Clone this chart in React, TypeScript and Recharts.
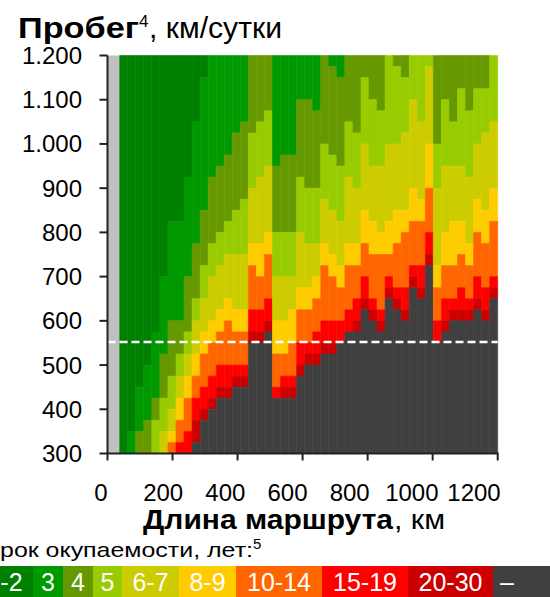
import React from 'react';
import { ComposedChart, XAxis, YAxis, ReferenceArea, ReferenceLine } from 'recharts';

// Route lengths (km) of the heat-map columns
const ROUTE_KM = [50, 75, 100, 125, 150, 175, 200, 225, 250, 275, 300, 325, 350, 375, 400, 425, 450, 475, 500, 525, 550, 575, 600, 625, 650, 675, 700, 725, 750, 775, 800, 825, 850, 875, 900, 925, 950, 975, 1000, 1025, 1050, 1075, 1100, 1125, 1150, 1175, 1200];
const ROUTE_TICKS = [0, 200, 400, 600, 800, 1000, 1200];
const MILEAGE_TICKS = [300, 400, 500, 600, 700, 800, 900, 1000, 1100, 1200];
const MILEAGE_MIN = 300;
const MILEAGE_MAX = 1200;
const THRESHOLD_MILEAGE = 552;

// Payback classes (years) and colours
const CLASSES = ['1-2', '3', '4', '5', '6-7', '8-9', '10-14', '15-19', '20-30', '–'];
const COLORS = ['#008000', '#009900', '#669900', '#99CC00', '#CCCC00', '#FFCC00', '#FF6600', '#FF0000', '#CC0000', '#404040'];
const NO_DATA_COLOR = '#C0C0C0';

// Lowest daily mileage (km/day) still inside each payback class, per column
const MIN_1_2 = [300, 350, 450, 500, 575, 700, 825, 825, 925, 1050, 1150, 1200, 1200, 1200, 1200, 1200, 1200, 1200, 1200, 1200, 1200, 1200, 1200, 1200, 1200, 1200, 1200, 1200, 1200, 1200, 1200, 1200, 1200, 1200, 1200, 1200, 1200, 1200, 1200, 1200, 1200, 1200, 1200, 1200, 1200, 1200, 1200];
const MIN_3 = [300, 300, 350, 375, 425, 525, 600, 600, 700, 775, 850, 925, 950, 975, 1025, 1050, 1200, 1200, 1200, 950, 975, 975, 1100, 1100, 1075, 1200, 1175, 1150, 1200, 1200, 1200, 1200, 1200, 1200, 1200, 1200, 1200, 1200, 1200, 1200, 1200, 1200, 1200, 1200, 1200, 1200, 1200];
const MIN_4 = [300, 300, 300, 300, 375, 425, 475, 525, 575, 650, 725, 775, 800, 825, 850, 875, 1025, 1050, 1075, 800, 800, 800, 925, 900, 900, 1000, 975, 950, 1050, 1025, 1150, 1100, 1075, 1200, 1175, 1150, 1200, 1200, 1200, 1000, 1100, 1050, 1125, 1075, 1125, 1125, 1200];
const MIN_5 = [300, 300, 300, 300, 300, 350, 400, 475, 525, 600, 650, 700, 725, 750, 750, 750, 900, 925, 950, 700, 700, 700, 800, 775, 775, 875, 850, 825, 925, 900, 1000, 950, 950, 1000, 1000, 1025, 1100, 1050, 1175, 900, 950, 950, 950, 925, 1000, 1025, 1050];
const MIN_6_7 = [300, 300, 300, 300, 300, 300, 350, 425, 475, 525, 575, 600, 625, 650, 625, 625, 775, 775, 800, 600, 600, 625, 675, 675, 700, 775, 750, 725, 775, 775, 850, 825, 800, 825, 850, 850, 900, 875, 1000, 725, 800, 825, 825, 775, 875, 850, 900];
const MIN_8_9 = [300, 300, 300, 300, 300, 300, 325, 375, 425, 475, 525, 550, 575, 600, 575, 575, 725, 700, 750, 525, 525, 550, 625, 625, 650, 725, 700, 675, 725, 725, 775, 750, 750, 750, 775, 800, 825, 825, 900, 675, 725, 725, 750, 725, 800, 775, 825];
const MIN_10_14 = [300, 300, 300, 300, 300, 300, 300, 325, 350, 425, 450, 475, 500, 500, 500, 500, 625, 625, 650, 450, 475, 475, 550, 550, 575, 600, 600, 600, 625, 650, 700, 650, 625, 700, 675, 675, 725, 725, 800, 600, 650, 650, 675, 650, 700, 675, 700];
const MIN_15_19 = [300, 300, 300, 300, 300, 300, 300, 300, 300, 375, 400, 425, 450, 450, 475, 475, 575, 575, 600, 425, 450, 450, 500, 525, 525, 550, 550, 550, 575, 600, 650, 625, 600, 675, 650, 625, 700, 675, 750, 550, 600, 625, 625, 625, 650, 625, 675];
const MIN_20_30 = [300, 300, 300, 300, 300, 300, 300, 300, 300, 325, 375, 400, 425, 425, 450, 450, 550, 550, 575, 425, 425, 425, 475, 500, 500, 525, 525, 550, 575, 575, 625, 600, 575, 650, 625, 600, 675, 650, 725, 550, 575, 600, 600, 600, 625, 600, 650];

const BOUNDS = [MIN_1_2, MIN_3, MIN_4, MIN_5, MIN_6_7, MIN_8_9, MIN_10_14, MIN_15_19, MIN_20_30];

const FONT = "'Liberation Sans', Arial, sans-serif";
const AXIS_COLOR = '#222';

const fmtThousands = (v: number) => {
  const s = String(v);
  return s.length > 3 ? s.slice(0, s.length - 3) + '.' + s.slice(-3) : s;
};

// Legend box extents (px) – layout only
const LEGEND_BOXES: [number, number][] = [[-24, 33], [33, 63], [63, 93], [93, 122], [122, 179], [179, 236], [236, 322], [322, 408], [408, 493], [493, 560]];

// x-axis tick: tick mark at the scale position, label drawn slightly compressed towards the left as in the source graphic
const X_TICK_LEN = 7;
const XTick = (props: any) => {
  const { x, y, payload } = props;
  const plotLeft = 107.5;
  const labelX = 101 + (x - plotLeft) * 0.956;
  return (
    <g>
      <line x1={x} x2={x} y1={y - X_TICK_LEN - 1} y2={y} stroke={AXIS_COLOR} strokeWidth={2} />
      <text x={labelX} y={y + 40} textAnchor="middle" fontSize={24} fill="#000" fontFamily={FONT}>{payload.value}</text>
    </g>
  );
};

export default function App() {
  const firstEdge = ROUTE_KM[0] - (ROUTE_KM[1] - ROUTE_KM[0]) / 2;
  const xMax = ROUTE_TICKS[ROUTE_TICKS.length - 1];
  const bandW = (xMax - firstEdge) / ROUTE_KM.length;

  const chartData = ROUTE_KM.map((km, i) => ({ km, mileage: MIN_20_30[i] }));

  const areas: React.ReactNode[] = [];
  areas.push(
    <ReferenceArea key="nodata" xAxisId="a" yAxisId="y" x1={0} x2={firstEdge} y1={MILEAGE_MIN} y2={MILEAGE_MAX}
      fill={NO_DATA_COLOR} fillOpacity={1} stroke="none" ifOverflow="visible" />
  );
  ROUTE_KM.forEach((km, i) => {
    const x1 = firstEdge + i * bandW;
    const x2 = Math.min(xMax, firstEdge + (i + 1) * bandW);
    let top = MILEAGE_MAX;
    for (let k = 0; k < CLASSES.length; k++) {
      const bottom = k < BOUNDS.length ? Math.min(top, BOUNDS[k][i]) : MILEAGE_MIN;
      if (bottom < top) {
        areas.push(
          <ReferenceArea key={`c${km}-${k}`} xAxisId="a" yAxisId="y" x1={x1} x2={x2} y1={bottom} y2={top}
            fill={COLORS[k]} fillOpacity={1} stroke={COLORS[k]} strokeWidth={0.6} ifOverflow="visible" />
        );
      }
      top = bottom;
    }
  });

  return (
    <div style={{ position: 'absolute', left: 0, top: 0, width: 550, height: 597, overflow: 'hidden', background: '#fff' }}>
      <ComposedChart width={550} height={597} data={chartData}
        margin={{ top: 55.5, right: 52.3, bottom: 93.5, left: 0 }}>
        <XAxis xAxisId="a" dataKey="km" type="number" domain={[0, 1200]} ticks={ROUTE_TICKS} allowDataOverflow
          height={50} tickSize={X_TICK_LEN} tickMargin={0} interval={0}
          tick={<XTick />} tickLine={false}
          axisLine={{ stroke: AXIS_COLOR, strokeWidth: 2 }} />
        <YAxis yAxisId="y" dataKey="mileage" type="number" domain={[MILEAGE_MIN, MILEAGE_MAX]} ticks={MILEAGE_TICKS} allowDataOverflow
          width={107.5} interval={0} tickSize={8} tickMargin={17.5} tickFormatter={fmtThousands}
          tick={{ fontSize: 24, fill: '#000', fontFamily: FONT }}
          axisLine={{ stroke: AXIS_COLOR, strokeWidth: 2 }} tickLine={{ stroke: AXIS_COLOR, strokeWidth: 2 }} />
        {areas}
        <ReferenceLine xAxisId="a" yAxisId="y" y={THRESHOLD_MILEAGE} stroke="#fff" strokeWidth={2.5} strokeDasharray="8 4" ifOverflow="visible" />
      </ComposedChart>
      <svg width={550} height={597} style={{ position: 'absolute', left: 0, top: 0, pointerEvents: 'none' }}
        fontFamily={FONT}>
        <text x={18} y={37.7} fontSize={30} fontWeight="bold" fill="#000" textLength={121} lengthAdjust="spacingAndGlyphs">Пробег</text>
        <text x={139} y={27} fontSize={17} fill="#000">4</text>
        <text x={149} y={37.7} fontSize={30} fill="#000" textLength={133} lengthAdjust="spacingAndGlyphs">, км/сутки</text>

        <text x={143} y={529} fontSize={28} fontWeight="bold" fill="#000" textLength={250} lengthAdjust="spacingAndGlyphs">Длина маршрута</text>
        <text x={394} y={529} fontSize={28} fill="#000" textLength={51} lengthAdjust="spacingAndGlyphs">, км</text>

        <text x={-18} y={557} fontSize={21} fill="#000" textLength={271} lengthAdjust="spacingAndGlyphs">Срок окупаемости, лет:</text>
        <text x={253} y={549} fontSize={15} fill="#000">5</text>

        {CLASSES.map((c, k) => (
          <g key={c}>
            <rect x={LEGEND_BOXES[k][0]} y={566} width={LEGEND_BOXES[k][1] - LEGEND_BOXES[k][0]} height={31} fill={COLORS[k]} />
            <text x={k === CLASSES.length - 1 ? 507 : (LEGEND_BOXES[k][0] + LEGEND_BOXES[k][1]) / 2} y={591}
              fontSize={25} fill="#fff" textAnchor="middle">{c}</text>
          </g>
        ))}
      </svg>
    </div>
  );
}
